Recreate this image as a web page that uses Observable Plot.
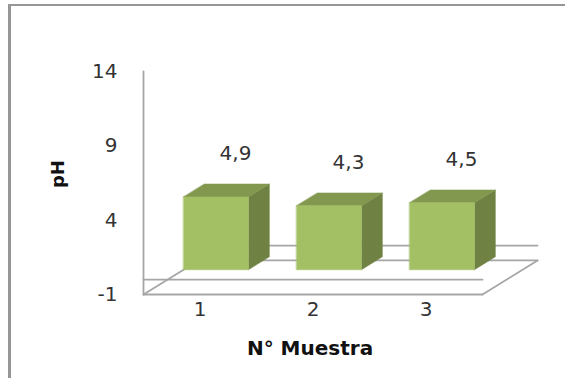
<!DOCTYPE html>
<html><head><meta charset="utf-8">
<script src="https://cdn.jsdelivr.net/npm/d3@7"></script>
<script src="https://cdn.jsdelivr.net/npm/@observablehq/plot@0.6"></script>
<style>html,body{margin:0;padding:0;background:#fff}svg{display:block}</style>
</head><body><div id="c"></div>
<script>
const muestras = [1, 2, 3];
const pH = [4.9, 4.3, 4.5];
const pHLabels = ["4,9", "4,3", "4,5"];
const yTicks = [-1, 4, 9, 14];
const xTitle = "N° Muestra";
const yTitle = "pH";

// Oblique projection of the 3-D column chart: depth 0..1 shifts x and y
const depthX = 0.487, depthY = 2.29;
const barFront = 0.29, barBack = 0.67, barWidth = 0.575;
const px = (x, d = 0) => x + d * depthX;
const py = (y, d = 0) => y + d * depthY;
const yMin = -1, yMax = 14, xMax = muestras.length;
const font = "'DejaVu Sans', sans-serif";

const rows = muestras.map((m, i) => {
  const c = m - 0.5, l = c - barWidth / 2, r = c + barWidth / 2, v = pH[i];
  const p = (x, y, d) => ({x: px(x, d), y: py(y, d), k: m});
  return {
    m, c, v, label: pHLabels[i],
    front: [p(l, 0, barFront), p(r, 0, barFront), p(r, v, barFront), p(l, v, barFront)],
    top: [p(l, v, barFront), p(r, v, barFront), p(r, v, barBack), p(l, v, barBack)],
    side: [p(r, 0, barFront), p(r, 0, barBack), p(r, v, barBack), p(r, v, barFront)]
  };
});
const seg = (x1, y1, d1, x2, y2, d2) => [{x: px(x1, d1), y: py(y1, d1)}, {x: px(x2, d2), y: py(y2, d2)}];
const axisColor = "#a6a6a6";
const gridLines = [
  seg(0, yMin, 0, xMax, yMin, 0),
  seg(xMax, yMin, 0, xMax, yMin, 1),
  seg(0, yMin, 0, 0, yMin, 1),
  seg(0, yMin, 1, xMax, yMin, 1),
  seg(0, 0, 0, xMax, 0, 0),
  seg(0, 0, 1, xMax, 0, 1),
  seg(0, yMin, 0, 0, yMax, 0)
];
const poly = (key, fill) => rows.map(r =>
  Plot.line(r[key], {x: "x", y: "y", fill, stroke: fill, strokeWidth: 0.5, curve: "linear-closed"}));

const plot = Plot.plot({
  width: 565, height: 378,
  marginLeft: 143, marginRight: 83, marginTop: 71, marginBottom: 84,
  style: {background: "#fff", fontFamily: font},
  x: {domain: [0, xMax], axis: null},
  y: {domain: [yMin, yMax], axis: null},
  marks: [
    gridLines.map(g => Plot.line(g, {x: "x", y: "y", stroke: axisColor, strokeWidth: 1.8})),
    poly("side", "#6f8243"),
    poly("top", "#82984f"),
    poly("front", "#a4c064"),
    Plot.text(yTicks, {x: 0, y: d => d, text: d => String(d), textAnchor: "end", dx: -26, fontSize: 20, fill: "#333"}),
    Plot.text(rows, {x: "c", y: yMin, text: d => String(d.m), dy: 15, fontSize: 20, fill: "#333"}),
    Plot.text(rows, {x: d => px(d.c, (barFront + barBack) / 2) + 0.08, y: "v", text: "label", dy: -53, fontSize: 20, fill: "#333"}),
    Plot.text([xTitle], {x: xMax / 2, y: yMin, text: d => d, dy: 54, dx: -3, fontSize: 20, fontWeight: 700, fill: "#111"}),
    Plot.text([yTitle], {x: 0, y: 7.1, text: d => d, rotate: -90, dx: -85, fontSize: 18, fontWeight: 700, fill: "#111"})
  ]
});
plot.style.display = "block";
document.getElementById("c").appendChild(plot);
const frame = document.createElement("div");
frame.style.cssText = "position:absolute;left:8px;top:4px;right:0;bottom:0;border-left:3px solid #969696;border-top:2px solid #969696;pointer-events:none";
document.body.appendChild(frame);
</script></body></html>
